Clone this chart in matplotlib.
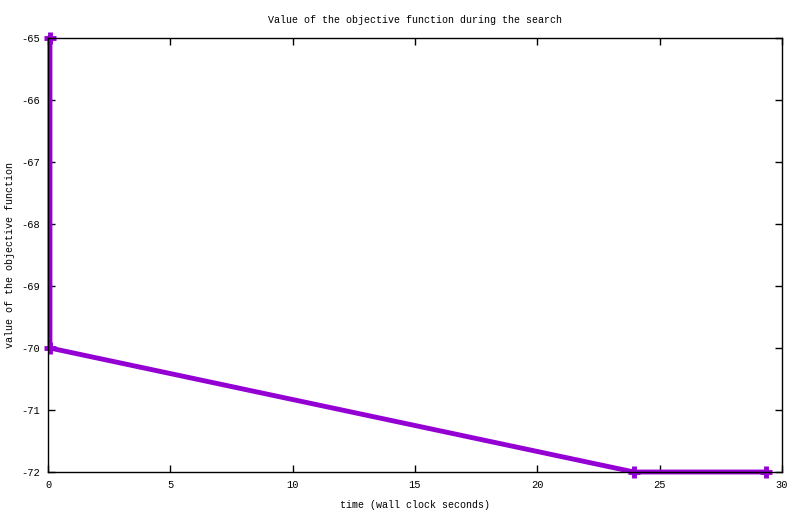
import matplotlib
matplotlib.use('Agg')
import matplotlib.pyplot as plt

# datos
tiempo = [0.08, 0.08, 23.95, 29.35]
objetivo = [-65, -70, -72, -72]
xticks = [0, 5, 10, 15, 20, 25, 30]
yticks = [-65, -66, -67, -68, -69, -70, -71, -72]

plt.rcParams['font.family'] = ['Liberation Mono', 'DejaVu Sans Mono']
plt.rcParams['font.size'] = 7.2
plt.rcParams['axes.unicode_minus'] = False

fig = plt.figure(figsize=(8, 5.14), dpi=100)
ax = fig.add_axes([0.06, 0.0817, 0.9175, 0.8443])
ax.plot(tiempo, objetivo, color='#9400d3', linewidth=3.5, marker='+',
        markersize=8, markeredgewidth=3.5, solid_joinstyle='miter', clip_on=False)
ax.set_xlim(0, 30)
ax.set_ylim(-72, -65)
ax.set_xticks(xticks)
ax.set_yticks(yticks)
ax.tick_params(direction='in', top=True, right=True, length=5, width=1, pad=6,
               labelsize=7.5)
for s in ax.spines.values():
    s.set_linewidth(1)
ax.set_title('Value of the objective function during the search', pad=11, fontsize=7.2)
ax.set_xlabel('time (wall clock seconds)')
ax.set_ylabel('value of the objective function')
ax.xaxis.set_label_coords(0.5, -0.076)
ax.yaxis.set_label_coords(-0.052, 0.5)
ax.xaxis.label.set_va('center')
ax.yaxis.label.set_va('center')
fig.savefig('out.png', dpi=100)
